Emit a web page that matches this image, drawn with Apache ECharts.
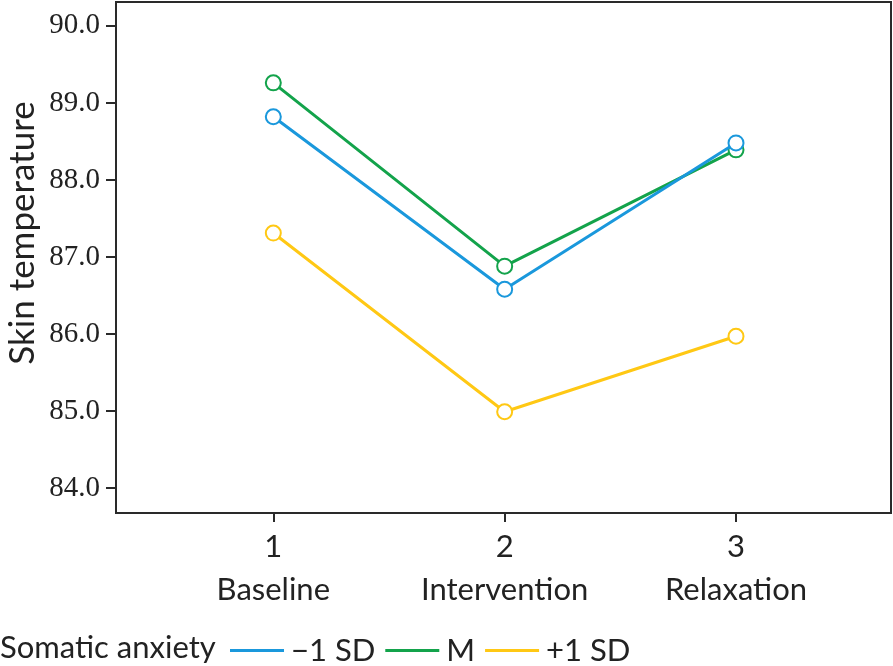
<!DOCTYPE html>
<html>
<head>
<meta charset="utf-8">
<script src="https://cdn.jsdelivr.net/npm/echarts@6/dist/echarts.min.js"></script>
<style>
html,body{margin:0;padding:0;background:#fff;}
#chart{width:893px;height:666px;}
</style>
</head>
<body>
<div id="chart"></div>
<script>
var phases = ['Baseline', 'Intervention', 'Relaxation'];
var xValues = [1, 2, 3];
var yTicks = [84, 85, 86, 87, 88, 89, 90];
var seriesNames = ['\u22121 SD', 'M', '+1 SD'];
var minus1SD = [88.82, 86.58, 88.48];
var meanVals = [89.26, 86.88, 88.39];
var plus1SD = [87.31, 84.99, 85.97];
var colors = ['#1a98dc', '#13a34b', '#ffc814'];
var legendTitle = 'Somatic anxiety';
var yTitle = 'Skin temperature';

var SANS = 'Lato';
var SERIF = 'Liberation Serif';

function pairs(vals) { return xValues.map(function (x, i) { return [x, vals[i]]; }); }

var allVals = [minus1SD, meanVals, plus1SD];
var zs = [4, 3, 2];
var series = allVals.map(function (vals, i) {
  return {
    name: seriesNames[i],
    type: 'line',
    data: pairs(vals),
    z: zs[i],
    symbol: 'circle',
    symbolSize: 15,
    lineStyle: { color: colors[i], width: 3 },
    itemStyle: { color: '#fff', borderColor: colors[i], borderWidth: 2 },
    emphasis: { disabled: true },
    animation: false
  };
});

var chart = echarts.init(document.getElementById('chart'), null, { renderer: 'canvas' });
chart.setOption({
  animation: false,
  grid: { left: 116, top: 2, right: 2, bottom: 153, show: true, borderColor: '#2a2a2a', borderWidth: 2, backgroundColor: 'transparent' },
  xAxis: {
    type: 'value', min: 0.32, max: 3.67,
    splitLine: { show: false },
    axisLine: { show: true, lineStyle: { color: '#2a2a2a', width: 2 } },
    axisTick: { show: true, length: 9, lineStyle: { color: '#2a2a2a', width: 2 }, customValues: xValues },
    axisLabel: {
      customValues: xValues,
      margin: 12,
      color: '#222', fontFamily: SANS, fontSize: 31, lineHeight: 43,
      formatter: function (v) { var i = xValues.indexOf(Math.round(v)); return v.toFixed(0) + '\n' + phases[i]; }
    }
  },
  yAxis: {
    type: 'value', min: 83.675, max: 90.31,
    splitLine: { show: false },
    axisLine: { show: true, lineStyle: { color: '#2a2a2a', width: 2 } },
    axisTick: { show: true, length: 10, lineStyle: { color: '#2a2a2a', width: 2 }, customValues: yTicks },
    axisLabel: {
      customValues: yTicks,
      margin: 16,
      color: '#222', fontFamily: SERIF, fontSize: 29,
      formatter: function (v) { return v.toFixed(1); }
    }
  },
  legend: {
    left: 225, top: 630,
    data: seriesNames.map(function (n, i) {
      return { name: n, itemStyle: { color: colors[i], borderWidth: 0 } };
    }),
    icon: 'rect', itemWidth: 54, itemHeight: 3, itemGap: 10,
    textStyle: { fontFamily: SANS, fontSize: 31, color: '#222', padding: [0, 0, 0, 2] },
    selectedMode: false
  },
  graphic: [
    { type: 'text', left: 0, top: 632, style: { text: legendTitle, font: '31px ' + SANS, fill: '#222' } },
    { type: 'text', x: 5, y: 233, rotation: Math.PI / 2, style: { text: yTitle, font: '35px ' + SANS, fill: '#222', align: 'center', verticalAlign: 'top' } }
  ],
  series: series
});
</script>
</body>
</html>
